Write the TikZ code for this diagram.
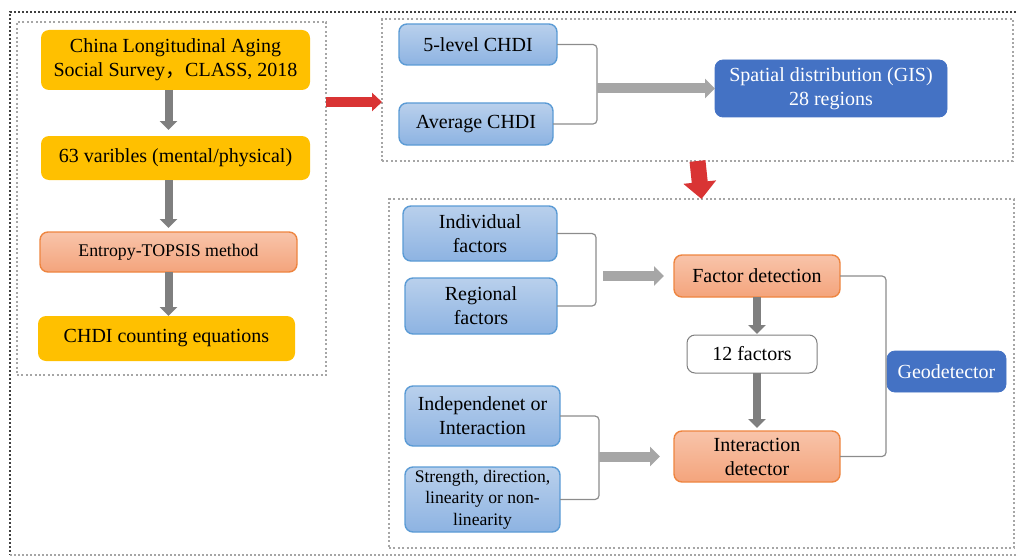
\documentclass[tikz,border=0pt]{standalone}
\usepackage{fontspec}
\setmainfont{Liberation Serif}
\newfontfamily\cjk{Noto Sans CJK SC}
\usetikzlibrary{arrows.meta,positioning}
\definecolor{chyellow}{HTML}{FFC000}
\definecolor{orangetop}{HTML}{F8C4AA}
\definecolor{orangebot}{HTML}{F4A47C}
\definecolor{orangeline}{HTML}{EE8540}
\definecolor{bluetop}{HTML}{B9D0EC}
\definecolor{bluebot}{HTML}{8DB3E2}
\definecolor{blueline}{HTML}{5B9BD5}
\definecolor{darkblue}{HTML}{4472C4}
\definecolor{darkgrey}{HTML}{7F7F7F}
\definecolor{lightgrey}{HTML}{A6A6A6}
\definecolor{redarrow}{HTML}{D93434}
\tikzset{
    %Define style for boxes
    ybox/.style={
           rectangle,
           rounded corners=4pt,
           fill=chyellow,
           inner sep=0pt, outer sep=0pt,
           align=center,
           font=\fontsize{10}{12}\selectfont},
    obox/.style={
           rectangle,
           rounded corners=4pt,
           draw=orangeline, line width=0.7pt,
           top color=orangetop, bottom color=orangebot,
           inner sep=0pt, outer sep=0pt,
           align=center,
           font=\fontsize{10}{12}\selectfont},
    lbbox/.style={
           rectangle,
           rounded corners=4pt,
           draw=blueline, line width=0.7pt,
           top color=bluetop, bottom color=bluebot,
           inner sep=0pt, outer sep=0pt,
           align=center,
           font=\fontsize{10}{12}\selectfont},
    dbbox/.style={
           rectangle,
           rounded corners=4pt,
           draw=darkblue, fill=darkblue,
           text=white,
           inner sep=0pt, outer sep=0pt,
           align=center,
           font=\fontsize{10}{12}\selectfont},
    wbox/.style={
           rectangle,
           rounded corners=4pt,
           draw=darkgrey, line width=0.5pt, fill=white,
           inner sep=0pt, outer sep=0pt,
           align=center,
           font=\fontsize{10}{12}\selectfont},
    panel/.style={
           rectangle,
           draw=lightgrey, line width=0.8pt,
           dash pattern=on 1pt off 1.2pt,
           inner sep=0pt, outer sep=0pt},
    outerframe/.style={
           draw=black!75, line width=1.1pt,
           dash pattern=on 1pt off 1pt},
    % Define arrow style
    garr/.style={
           draw=darkgrey, line width=4pt,
           -{Triangle[length=4.5pt,width=8.5pt]}},
    bigarr/.style={
           draw=lightgrey, line width=5pt,
           -{Triangle[length=5pt,width=9.5pt]}},
    redarr/.style={
           draw=redarrow, line width=5pt,
           -{Triangle[length=5pt,width=9pt]}},
    bline/.style={
           draw=black!45, line width=0.6pt,
           rounded corners=2pt}
}
\begin{document}
\begin{tikzpicture}[x=0.5pt,y=-0.5pt]
    \useasboundingbox (0,0) rectangle (1016,556);
    % FRAMES
    \draw[outerframe] (1016,12) -- (10,12) -- (10,555);
    \draw[outerframe, draw=black!35] (10,555) -- (1016,555);
    \node[panel, minimum width=154.5pt, minimum height=176.5pt] (leftpanel) at (171.5,198.5) {};
    \node[panel, minimum width=315.5pt, minimum height=71pt] (toppanel) at (697.5,90) {};
    \node[panel, minimum width=312.5pt, minimum height=174.5pt] (botpanel) at (701.5,373.5) {};

    % DATA
    \node[ybox, minimum width=134.5pt, minimum height=30pt] (survey) at (175.5,60)
        {China Longitudinal Aging\\Social Survey{\cjk ，}CLASS, 2018};
    \node[ybox, minimum width=134.5pt, minimum height=22pt] (vars) at (175.5,158)
        {63 varibles (mental/physical)};
    \node[obox, minimum width=128.5pt, minimum height=20pt, font=\fontsize{8.9}{11}\selectfont] (entropy) at (168.5,252)
        {Entropy-TOPSIS method};
    \node[ybox, minimum width=128.5pt, minimum height=22.5pt] (counting) at (166.5,338.5)
        {CHDI counting equations};

    \draw[garr, shorten >=3pt] (survey.south -| entropy.south) -- (vars.north -| entropy.north);
    \draw[garr, shorten >=2pt] (vars.south -| entropy.south) -- (entropy.north);
    \draw[garr] (entropy.south) -- (counting.north -| entropy.north);

    % SPATIAL
    \node[lbbox, minimum width=79pt, minimum height=20.5pt] (fivelevel) at (478,44.5) {5-level CHDI};
    \node[lbbox, minimum width=77pt, minimum height=21pt] (average) at (476,124) {Average CHDI};
    \node[dbbox, minimum width=116pt, minimum height=28.5pt] (spatial) at (831,88.5)
        {Spatial distribution (GIS)\\28 regions};
    \coordinate (bracketA) at (597,0);
    \draw[bline] (fivelevel.east) -- (fivelevel.east -| bracketA) -- (average.east -| bracketA) -- (average.east);
    \draw[bigarr] (bracketA |- spatial.west) -- (spatial.west);

    % red arrows between panels
    \coordinate (redlevel) at (0,102);
    \draw[redarr] (leftpanel.east |- redlevel) -- (toppanel.west |- redlevel);
    \draw[redarr, line width=8pt, -{Triangle[length=8.5pt,width=16pt]}] (toppanel.south) -- (botpanel.north);

    % GEODETECTOR
    \node[lbbox, minimum width=77pt, minimum height=27.5pt] (individual) at (480,233.5) {Individual\\factors};
    \node[lbbox, minimum width=76pt, minimum height=28pt] (regional) at (481,306) {Regional\\factors};
    \node[lbbox, minimum width=77.5pt, minimum height=30pt] (independ) at (482.5,416) {Independenet or\\Interaction};
    \node[lbbox, minimum width=77.5pt, minimum height=32.5pt, font=\fontsize{8.8}{10.8}\selectfont] (strength) at (482.5,499.5)
        {Strength, direction,\\linearity or non-\\linearity};
    \node[obox, minimum width=83pt, minimum height=21pt] (factordet) at (757,276) {Factor detection};
    \node[wbox, minimum width=65pt, minimum height=19pt] (twelve) at (752,354) {12 factors};
    \node[obox, minimum width=83pt, minimum height=25.5pt] (interdet) at (757,456.5) {Interaction\\detector};
    \node[dbbox, minimum width=59.5pt, minimum height=20.5pt] (geo) at (946.5,371.5) {Geodetector};

    \coordinate (bracketB) at (596,0);
    \coordinate (bracketC) at (599,0);
    \coordinate (bracketD) at (886,0);
    \draw[bline] (individual.east) -- (individual.east -| bracketB) -- (regional.east -| bracketB) -- (regional.east);
    \draw[bline] (independ.east) -- (independ.east -| bracketC) -- (strength.east -| bracketC) -- (strength.east);
    \draw[bline] (factordet.east) -- (factordet.east -| bracketD) -- (interdet.east -| bracketD) -- (interdet.east);

    \draw[bigarr, shorten >=5pt] ([xshift=3.5pt]bracketB |- factordet.west) -- (factordet.west);
    \draw[bigarr, shorten >=7pt] (bracketC |- interdet.west) -- (interdet.west);
    \draw[garr, shorten >=0.5pt] (factordet.south) -- (factordet.south |- twelve.north);
    \draw[garr, shorten >=1.5pt] (factordet.south |- twelve.south) -- (interdet.north);
\end{tikzpicture}
\end{document}
